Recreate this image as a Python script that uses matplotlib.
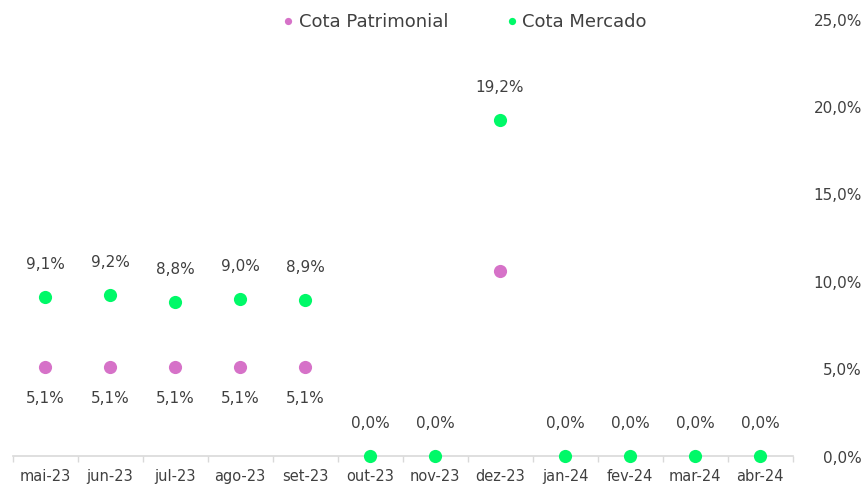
import matplotlib
matplotlib.use("Agg")
import matplotlib.pyplot as plt
import numpy as np

categories = ["mai-23", "jun-23", "jul-23", "ago-23", "set-23", "out-23",
              "nov-23", "dez-23", "jan-24", "fev-24", "mar-24", "abr-24"]
cota_mercado = [9.1, 9.2, 8.8, 9.0, 8.9, 0.0, 0.0, 19.2, 0.0, 0.0, 0.0, 0.0]
cota_patrimonial = [5.1, 5.1, 5.1, 5.1, 5.1, None, None, 10.6, None, None, None, None]
patrimonial_labels = ["5,1%", "5,1%", "5,1%", "5,1%", "5,1%", "", "", "", "", "", "", ""]
yticks = [0, 5, 10, 15, 20, 25]

pink = "#D672C8"
green = "#00F968"
textc = "#404040"
plt.rcParams['font.family'] = ['DejaVu Sans']

W, H = 866, 485
fig = plt.figure(figsize=(W / 100, H / 100), dpi=100)
left, right = 12.5, 792.5
bottom, top = 457, 19.5
ax = fig.add_axes([left / W, (H - bottom) / H, (right - left) / W, (bottom - top) / H])

x = np.arange(len(categories))
px = [i for i, v in enumerate(cota_patrimonial) if v is not None]
py = [v for v in cota_patrimonial if v is not None]
ax.scatter(px, py, s=90, color=pink, zorder=3, clip_on=False, linewidths=0, label="Cota Patrimonial")
ax.scatter(x, cota_mercado, s=90, color=green, zorder=4, clip_on=False, linewidths=0, label="Cota Mercado")

for i, v in enumerate(cota_mercado):
    ax.annotate(f"{v:.1f}%".replace(".", ","), (i, v), xytext=(0, 24), textcoords="offset points",
                ha="center", va="center", fontsize=11, color=textc)
for i, v in enumerate(cota_patrimonial):
    if v is not None and patrimonial_labels[i]:
        ax.annotate(patrimonial_labels[i], (i, v), xytext=(0, -22), textcoords="offset points",
                    ha="center", va="center", fontsize=11, color=textc)

ax.set_xlim(-0.5, len(categories) - 0.5)
ax.set_ylim(0, 25)
ax.set_xticks(x)
ax.set_xticklabels(categories, fontsize=10.5, color=textc)
ax.set_xticks(np.arange(-0.5, len(categories), 1), minor=True)
ax.tick_params(axis="x", which="major", length=0, pad=9)
ax.tick_params(axis="x", which="minor", length=4, color="#D9D9D9", width=1)

ax.yaxis.tick_right()
ax.set_yticks(yticks)
ax.set_yticklabels([f"{t:.1f}%".replace(".", ",") for t in yticks], fontsize=11, color=textc)
for lab in ax.get_yticklabels():
    lab.set_horizontalalignment("right")
ax.tick_params(axis="y", length=0, pad=50)

for s in ["top", "left", "right"]:
    ax.spines[s].set_visible(False)
ax.spines["bottom"].set_color("#D9D9D9")
ax.spines["bottom"].set_linewidth(1.2)

leg = fig.legend(loc="center", bbox_to_anchor=(463 / W, 1 - 22 / H), ncol=2, frameon=False,
                 fontsize=13, markerscale=0.55, handletextpad=0.1, columnspacing=3.0,
                 handlelength=1.0)
for t in leg.get_texts():
    t.set_color(textc)

fig.savefig("out.png", dpi=100)
